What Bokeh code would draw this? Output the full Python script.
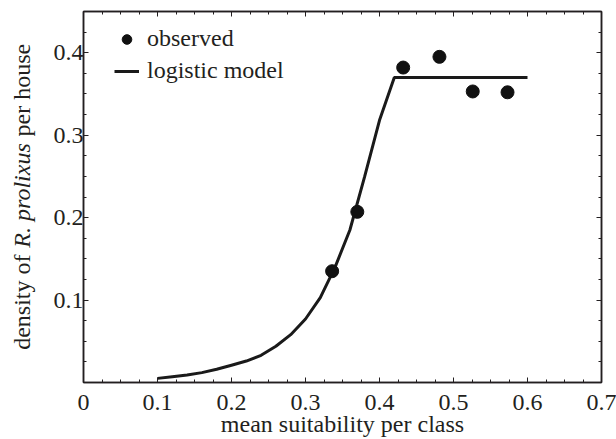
from math import pi
from bokeh.plotting import figure
from bokeh.layouts import row
from bokeh.models import (FixedTicker, LinearAxis, Range1d, Label, Legend, LegendItem)
from bokeh.embed import file_html
from bokeh.resources import INLINE

# ---- data ----
obs_x = [0.336, 0.370, 0.432, 0.481, 0.526, 0.573]
obs_y = [0.135, 0.207, 0.382, 0.395, 0.353, 0.352]

model_x = [0.10, 0.12, 0.14, 0.16, 0.18, 0.20, 0.22, 0.24, 0.26, 0.28,
           0.30, 0.32, 0.34, 0.36, 0.38, 0.40, 0.42, 0.60]
model_y = [0.005, 0.007, 0.009, 0.012, 0.016, 0.021, 0.026, 0.033, 0.044, 0.058,
           0.077, 0.103, 0.140, 0.185, 0.250, 0.318, 0.370, 0.370]

x_ticks = [0.0, 0.1, 0.2, 0.3, 0.4, 0.5, 0.6, 0.7]
x_tick_labels = ["0", "0.1", "0.2", "0.3", "0.4", "0.5", "0.6", "0.7"]
y_ticks = [0.1, 0.2, 0.3, 0.4]
y_tick_labels = ["0.1", "0.2", "0.3", "0.4"]
x_minor = [round(i * 0.025, 3) for i in range(0, 29)]
y_minor = [round(i * 0.025, 3) for i in range(0, 19)]

x_title = "mean suitability per class"
y_title_parts = ["density of", "R. prolixus", "per house"]

FONT = "Liberation Serif"
INK = "#231f20"
FS = "24px"
B_TOP, B_BOTTOM = 11, 55

# ---------------- main plot ----------------
p = figure(width=576, height=439, x_range=Range1d(0, 0.7), y_range=Range1d(0, 0.45),
           output_backend="svg", toolbar_location=None,
           min_border_left=43, min_border_right=15,
           min_border_top=B_TOP, min_border_bottom=B_BOTTOM)
p.grid.visible = False
p.outline_line_color = INK
p.outline_line_width = 1.5
p.background_fill_color = "white"
p.border_fill_color = "white"

def style_axis(ax, ticks, minor, labels, show_labels=True, standoff=5):
    ax.ticker = FixedTicker(ticks=ticks, minor_ticks=minor)
    ax.major_label_overrides = {t: l for t, l in zip(ticks, labels)}
    ax.major_tick_in = 5
    ax.major_tick_out = 0
    ax.minor_tick_in = 3
    ax.minor_tick_out = 0
    ax.axis_line_color = INK
    ax.axis_line_width = 1.5
    ax.major_tick_line_color = INK
    ax.minor_tick_line_color = INK
    ax.major_tick_line_width = 1
    ax.minor_tick_line_width = 1
    ax.major_label_text_font = FONT
    ax.axis_label_text_font = FONT
    ax.axis_label_text_font_style = "normal"
    ax.axis_label_text_color = INK
    if show_labels:
        ax.major_label_text_color = INK
        ax.major_label_text_font_size = FS
        ax.major_label_standoff = standoff
    else:
        ax.major_label_text_color = None
        ax.major_label_text_font_size = "0px"
        ax.major_label_standoff = 0

style_axis(p.xaxis[0], x_ticks, x_minor, x_tick_labels, standoff=12)
style_axis(p.yaxis[0], y_ticks, y_minor, y_tick_labels, standoff=0)
p.xaxis[0].axis_label = x_title
p.xaxis[0].axis_label_text_font_size = FS
p.xaxis[0].axis_label_standoff = -2

top = LinearAxis()
style_axis(top, x_ticks, x_minor, x_tick_labels, show_labels=False)
p.add_layout(top, "above")
right = LinearAxis()
style_axis(right, y_ticks, y_minor, y_tick_labels, show_labels=False)
p.add_layout(right, "right")

line_r = p.line(model_x, model_y, line_color="#1a1a1a", line_width=3)
dots_r = p.scatter(obs_x, obs_y, size=13, fill_color="#111111", line_color="#111111")

legend = Legend(items=[LegendItem(label="observed", renderers=[dots_r]),
                       LegendItem(label="logistic model", renderers=[line_r])],
                location=(31, 298), orientation="vertical",
                glyph_width=25, glyph_height=24, label_height=24, spacing=5,
                label_standoff=8, padding=0, margin=0,
                background_fill_alpha=0, border_line_alpha=0,
                label_text_font=FONT, label_text_font_size=FS, label_text_color=INK)
p.add_layout(legend)

# ---------------- y-axis title panel (with italic species name) ----------------
t = figure(width=40, height=439, x_range=Range1d(0, 1), y_range=Range1d(0, 1),
           output_backend="svg", toolbar_location=None,
           x_axis_type=None, y_axis_type=None,
           min_border_left=0, min_border_right=0,
           min_border_top=B_TOP, min_border_bottom=B_BOTTOM)
t.grid.visible = False
t.outline_line_color = None
t.background_fill_color = "white"
t.border_fill_color = "white"

bx = 21          # text middle (screen px from panel frame left)
mid = 187        # centre of the italic part (screen px from panel frame bottom)
gap = 59
t.add_layout(Label(x=bx, y=mid - gap, x_units="screen", y_units="screen", angle=pi / 2,
                   text=y_title_parts[0], text_align="right", text_baseline="middle",
                   text_font=FONT, text_font_size=FS, text_color=INK))
t.add_layout(Label(x=bx, y=mid, x_units="screen", y_units="screen", angle=pi / 2,
                   text=y_title_parts[1], text_align="center", text_baseline="middle",
                   text_font=FONT, text_font_size=FS, text_font_style="italic",
                   text_color=INK))
t.add_layout(Label(x=bx, y=mid + gap, x_units="screen", y_units="screen", angle=pi / 2,
                   text=y_title_parts[2], text_align="left", text_baseline="middle",
                   text_font=FONT, text_font_size=FS, text_color=INK))

layout = row(t, p)
open("out.html", "w").write(file_html(layout, INLINE))
